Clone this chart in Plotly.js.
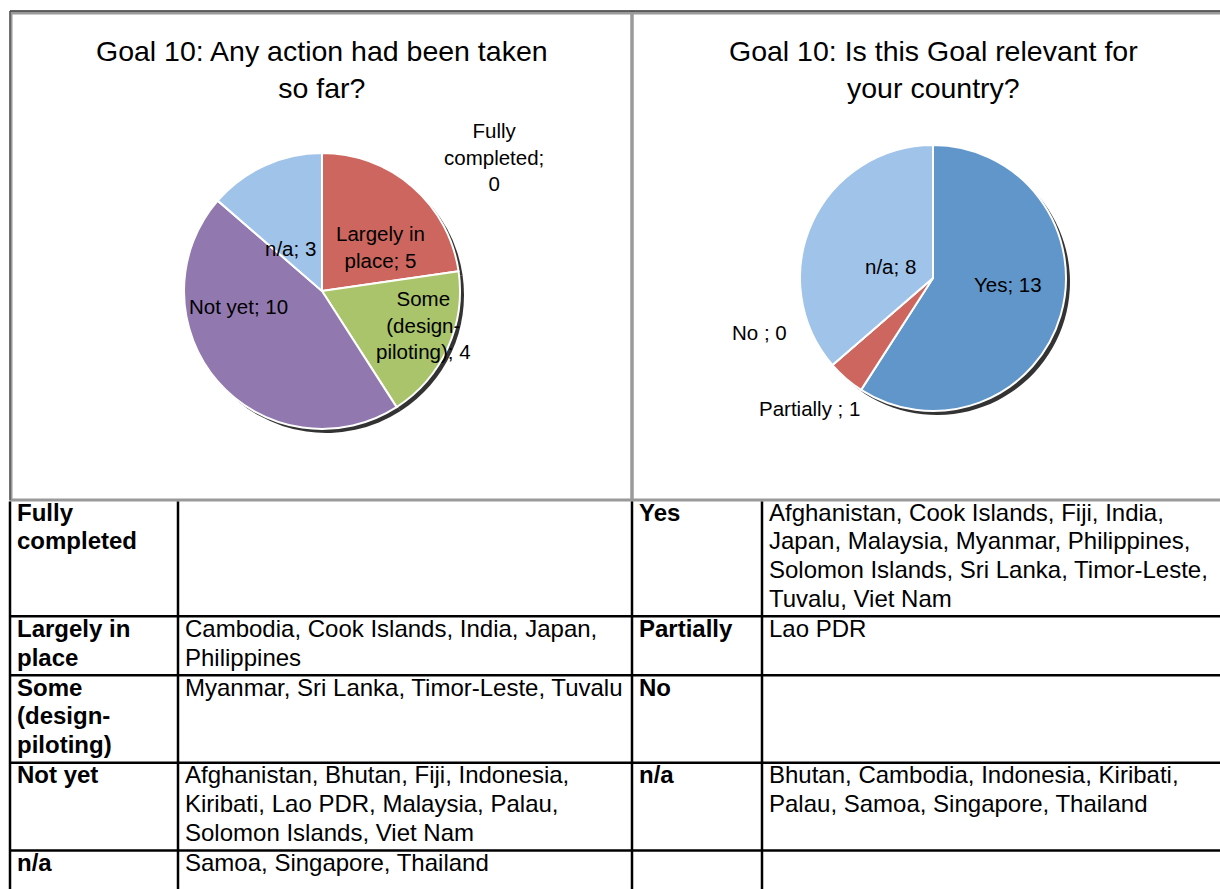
<!DOCTYPE html>
<html>
<head>
<meta charset="utf-8">
<script src="https://cdn.plot.ly/plotly-3.0.1.min.js"></script>
<style>
  body { margin: 0; background: #fff; }
  #chart { width: 1220px; height: 889px; }
</style>
</head>
<body>
<div id="chart"></div>
<script>
// Goal 10: Any action had been taken so far?
var actionLabels = ['Fully completed', 'Largely in place', 'Some (design-piloting)', 'Not yet', 'n/a'];
var actionValues = [0, 5, 4, 10, 3];
var actionColors = ['#4f81bd', '#cd665f', '#a9c46b', '#9179b0', '#a0c3ea'];

// Goal 10: Is this Goal relevant for your country?
var relevantLabels = ['Yes', 'Partially ', 'No ', 'n/a'];
var relevantValues = [13, 1, 0, 8];
var relevantColors = ['#6096ca', '#cd665f', '#9bbb59', '#a0c3ea'];

// texto da tabela (uma coluna por array)
var actionRows = ['Fully<br>completed', 'Largely in<br>place', 'Some<br>(design-<br>piloting)', 'Not yet', 'n/a'];
var actionCountries = [
    '',
    'Cambodia, Cook Islands, India, Japan,<br>Philippines',
    'Myanmar, Sri Lanka, Timor-Leste, Tuvalu',
    'Afghanistan, Bhutan, Fiji, Indonesia,<br>Kiribati, Lao PDR, Malaysia, Palau,<br>Solomon Islands, Viet Nam',
    'Samoa, Singapore, Thailand'
];
var relevantRows = ['Yes', 'Partially', 'No', 'n/a', ''];
var relevantCountries = [
    'Afghanistan, Cook Islands, Fiji, India,<br>Japan, Malaysia, Myanmar, Philippines,<br>Solomon Islands, Sri Lanka, Timor-Leste,<br>Tuvalu, Viet Nam',
    'Lao PDR',
    '',
    'Bhutan, Cambodia, Indonesia, Kiribati,<br>Palau, Samoa, Singapore, Thailand',
    ''
];

var W = 1220, H = 889;
function px(x) { return x / W; }
function py(y) { return 1 - y / H; }
var FONT = 'Liberation Sans, Arial, sans-serif';

function pieDomain(cx, cy, r, dx, dy) {
    dx = dx || 0; dy = dy || 0;
    return {
        x: [px(cx - r + dx), px(cx + r + dx)],
        y: [py(cy + r + dy), py(cy - r + dy)]
    };
}

var shadow = 'rgba(0,0,0,0.8)';
var data = [
    // sombras
    {
        type: 'pie', values: actionValues, labels: actionLabels, sort: false,
        direction: 'clockwise', rotation: 0, textinfo: 'none', hoverinfo: 'skip',
        marker: {colors: actionValues.map(function() { return shadow; })},
        domain: pieDomain(322, 291, 138, 4, 4), showlegend: false
    },
    {
        type: 'pie', values: relevantValues, labels: relevantLabels, sort: false,
        direction: 'clockwise', rotation: 0, textinfo: 'none', hoverinfo: 'skip',
        marker: {colors: relevantValues.map(function() { return shadow; })},
        domain: pieDomain(933, 278, 133, 4, 4), showlegend: false
    },
    // Gráficos de pizza
    {
        type: 'pie', values: actionValues, labels: actionLabels, sort: false,
        direction: 'clockwise', rotation: 0, textinfo: 'none',
        marker: {colors: actionColors, line: {color: '#ffffff', width: 2}},
        domain: pieDomain(322, 291, 138), showlegend: false
    },
    {
        type: 'pie', values: relevantValues, labels: relevantLabels, sort: false,
        direction: 'clockwise', rotation: 0, textinfo: 'none',
        marker: {colors: relevantColors, line: {color: '#ffffff', width: 2}},
        domain: pieDomain(933, 278, 133), showlegend: false
    }
];

// rótulos das fatias
function pieLabel(values, i, text, x, y) {
    return {
        text: text + '; ' + values[i], x: px(x), y: py(y), xref: 'paper', yref: 'paper',
        showarrow: false, xanchor: 'center', yanchor: 'middle',
        font: {family: FONT, size: 20.5, color: '#000000'}
    };
}

var annotations = [
    {text: 'Goal 10: Any action had been taken<br>so far?', x: px(322), y: py(69)},
    {text: 'Goal 10: Is this Goal relevant for<br>your country?', x: px(933), y: py(69)}
].map(function(a) {
    a.xref = 'paper'; a.yref = 'paper'; a.showarrow = false;
    a.xanchor = 'center'; a.yanchor = 'middle';
    a.font = {family: FONT, size: 28.5, color: '#000000'};
    return a;
});

var fully = pieLabel(actionValues, 0, 'Fully<br>completed', 494, 157);
fully.text = 'Fully<br>completed;<br>' + actionValues[0];
annotations.push(
    fully,
    pieLabel(actionValues, 1, 'Largely in<br>place', 380, 247),
    pieLabel(actionValues, 2, 'Some<br>(design-<br>piloting)', 423, 325),
    pieLabel(actionValues, 3, 'Not yet', 238, 306),
    pieLabel(actionValues, 4, 'n/a', 290, 248),
    pieLabel(relevantValues, 0, 'Yes', 1008, 284),
    pieLabel(relevantValues, 1, 'Partially ', 809, 408),
    pieLabel(relevantValues, 2, 'No ', 759, 332),
    pieLabel(relevantValues, 3, 'n/a', 890, 266)
);

// molduras dos gráficos
var frame = {type: 'rect', xref: 'paper', yref: 'paper', line: {color: '#9a9a9a', width: 3}};
var shapes = [
    Object.assign({x0: px(11), x1: px(632), y0: py(500), y1: py(13)}, frame),
    Object.assign({x0: px(632), x1: px(1224), y0: py(500), y1: py(13)}, frame),
    {type: 'line', xref: 'paper', yref: 'paper', x0: px(10), x1: 1, y0: py(11), y1: py(11), line: {color: '#333333', width: 1.5}},
    {type: 'line', xref: 'paper', yref: 'paper', x0: px(10), x1: px(10), y0: py(500), y1: py(11), line: {color: '#555555', width: 1.5}}
];

// tabela: colunas e linhas
var columns = [actionRows, actionCountries, relevantRows, relevantCountries];
var boldCol = [true, false, true, false];
var colLeft = [10, 178, 632, 762];
var tableTop = 500, lineH = 28.7, cellPad = 5;
var tableLine = {color: '#000000', width: 2.5};

var rowTop = tableTop;
for (var r = 0; r < actionRows.length; r++) {
    var nLines = 1;
    columns.forEach(function(col, c) {
        var lines = col[r] ? col[r].split('<br>') : [];
        nLines = Math.max(nLines, lines.length);
        lines.forEach(function(t, k) {
            annotations.push({
                text: boldCol[c] ? '<b>' + t + '</b>' : t,
                x: px(colLeft[c] + cellPad), y: py(rowTop + 12 + k * lineH),
                xref: 'paper', yref: 'paper', showarrow: false,
                xanchor: 'left', yanchor: 'middle',
                font: {family: FONT, size: 24, color: '#000000'}
            });
        });
    });
    var rowBottom = rowTop + nLines * lineH + 1.5;
    if (r < actionRows.length - 1) {
        shapes.push({type: 'line', xref: 'paper', yref: 'paper', x0: px(colLeft[0]), x1: 1,
            y0: py(rowBottom), y1: py(rowBottom), line: tableLine});
    }
    rowTop = rowBottom;
}
colLeft.forEach(function(x) {
    shapes.push({type: 'line', xref: 'paper', yref: 'paper', x0: px(x), x1: px(x),
        y0: 0, y1: py(tableTop + 1.5), line: tableLine});
});

var layout = {
    width: W,
    height: H,
    margin: {l: 0, r: 0, t: 0, b: 0},
    paper_bgcolor: '#ffffff',
    showlegend: false,
    annotations: annotations,
    shapes: shapes
};

Plotly.newPlot('chart', data, layout, {displayModeBar: false, staticPlot: true});
</script>
</body>
</html>
